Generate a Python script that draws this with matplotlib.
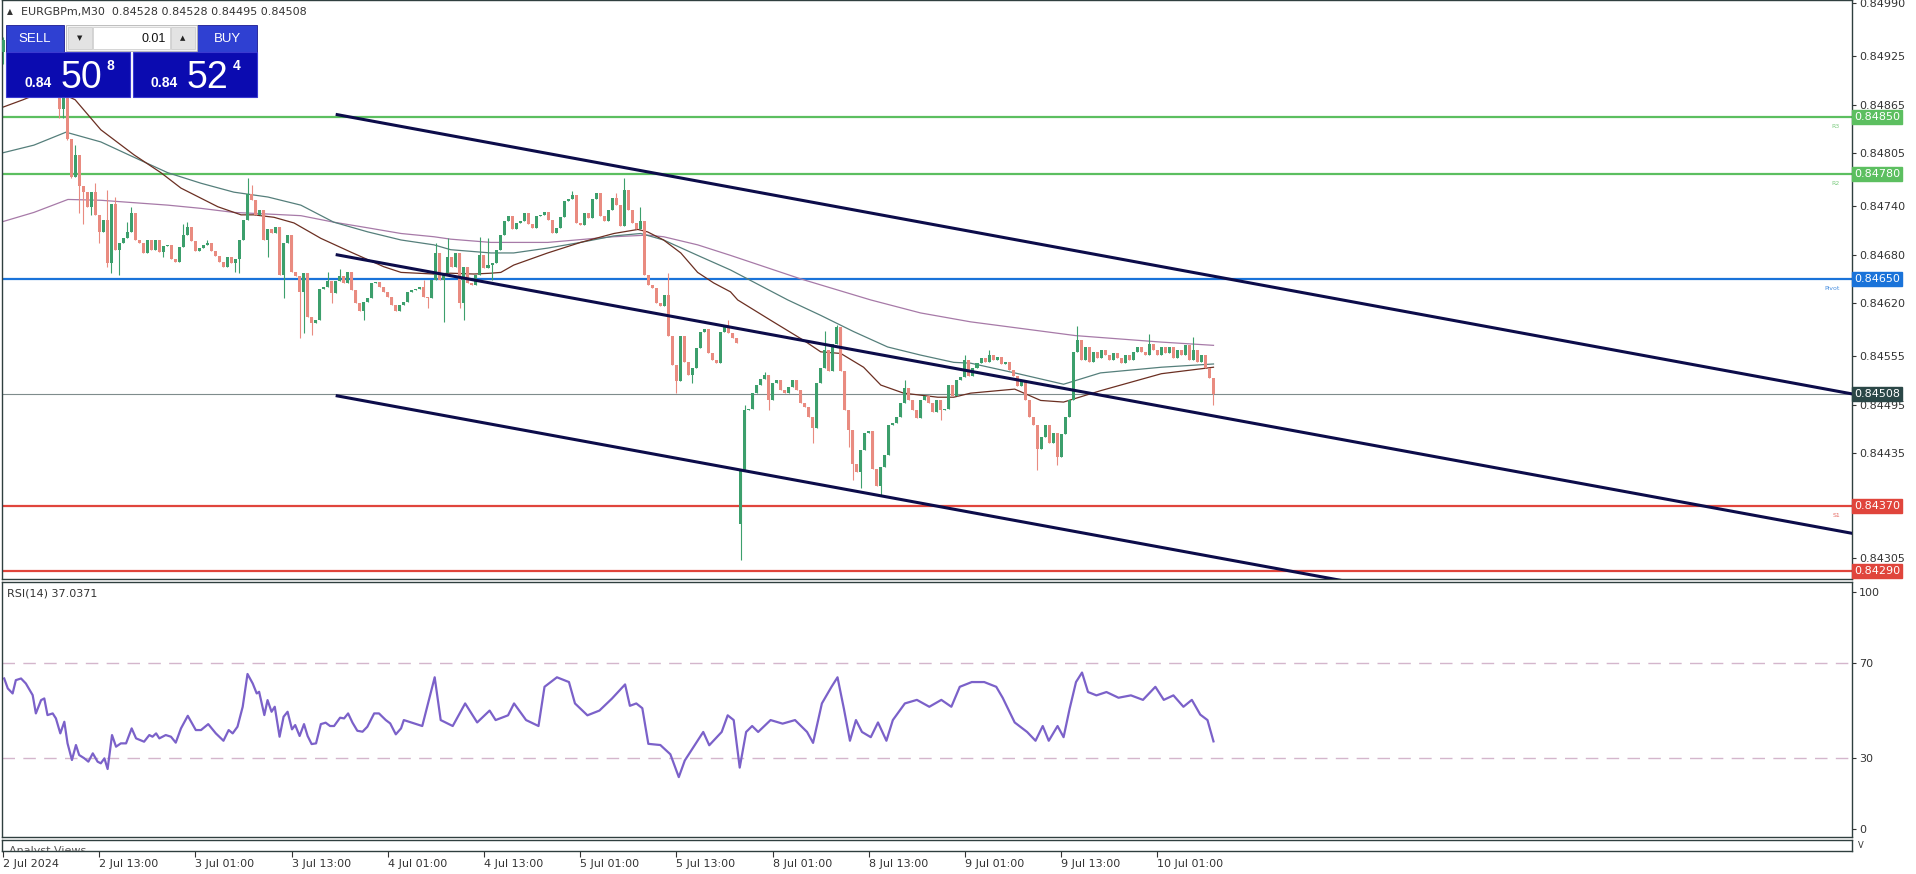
import numpy as np
import matplotlib
matplotlib.use("Agg")
import matplotlib.pyplot as plt
import matplotlib.transforms as mtransforms
from matplotlib.patches import Rectangle

W, H = 1916, 874

# ----------------------------- DATA -----------------------------
# EURGBPm M30 bars from 2 Jul 01:00, prices in points (84850 -> 0.84850)
first_open = 84930
closes = [
    84945, 84925, 84938, 84945, 84930, 84922, 84935, 84928, 84915, 84920,
    84905, 84912, 84898, 84885, 84860, 84875, 84823, 84776, 84803, 84764,
    84757, 84739, 84757, 84729, 84708, 84723, 84669, 84743, 84686, 84694,
    84700, 84708, 84731, 84698, 84694, 84682, 84698, 84686, 84698, 84683,
    84690, 84692, 84675, 84671, 84689, 84704, 84714, 84697, 84684, 84688,
    84692, 84694, 84684, 84678, 84671, 84665, 84677, 84669, 84675, 84698,
    84723, 84755, 84747, 84729, 84735, 84698, 84712, 84706, 84714, 84655,
    84694, 84704, 84659, 84653, 84634, 84657, 84603, 84595, 84599, 84638,
    84640, 84647, 84632, 84647, 84653, 84645, 84659, 84636, 84620, 84610,
    84622, 84626, 84645, 84646, 84640, 84634, 84628, 84618, 84610, 84618,
    84622, 84634, 84636, 84637, 84640, 84628, 84626, 84649, 84682, 84649,
    84657, 84677, 84665, 84682, 84620, 84665, 84645, 84642, 84655, 84680,
    84663, 84667, 84670, 84686, 84704, 84721, 84727, 84711, 84719, 84721,
    84731, 84718, 84713, 84727, 84729, 84733, 84723, 84707, 84713, 84726,
    84746, 84748, 84754, 84719, 84717, 84731, 84725, 84748, 84756, 84727,
    84721, 84735, 84750, 84741, 84715, 84760, 84735, 84719, 84711, 84721,
    84655, 84643, 84639, 84620, 84616, 84630, 84579, 84544, 84524, 84579,
    84548, 84532, 84540, 84565, 84585, 84588, 84559, 84550, 84546, 84585,
    84592, 84583, 84577, 84571, 84414, 84488, 84490, 84509, 84519, 84527,
    84531, 84501, 84521, 84525, 84513, 84509, 84517, 84525, 84513, 84497,
    84492, 84480, 84466, 84521, 84540, 84562, 84536, 84570, 84591, 84536,
    84488, 84464, 84421, 84412, 84439, 84460, 84462, 84416, 84394, 84418,
    84433, 84470, 84472, 84480, 84497, 84515, 84501, 84488, 84478, 84501,
    84505, 84497, 84486, 84501, 84488, 84490, 84519, 84505, 84525, 84529,
    84550, 84530, 84540, 84546, 84552, 84548, 84556, 84550, 84554, 84545,
    84548, 84538, 84530, 84518, 84524, 84500, 84480, 84470, 84440, 84455,
    84470, 84448, 84460, 84430, 84458, 84480, 84500, 84560, 84575, 84550,
    84566, 84548, 84560, 84552, 84562, 84556, 84550, 84558, 84552, 84546,
    84556, 84550, 84560, 84566, 84560, 84556, 84570, 84562, 84556, 84566,
    84558, 84566, 84552, 84562, 84556, 84568, 84550, 84562, 84548, 84556,
    84540, 84528, 84508,
]
gap_opens = {184: 84348}
wick_highs = {0: 84948, 14: 84895, 15: 84880, 18: 84815, 23: 84768, 26: 84760,
              28: 84751, 31: 84720, 32: 84739, 45: 84718, 46: 84720, 51: 84698,
              61: 84774, 62: 84766, 81: 84659, 84: 84662, 105: 84649, 108: 84694,
              111: 84700, 119: 84702, 121: 84700, 142: 84758, 153: 84756,
              155: 84774, 159: 84739, 166: 84657, 181: 84599, 185: 84494,
              190: 84535, 205: 84586, 208: 84593, 217: 84462, 225: 84525,
              240: 84556, 246: 84562, 268: 84592, 286: 84582, 297: 84578}
wick_lows = {0: 84915, 14: 84848, 15: 84848, 16: 84821, 17: 84774, 19: 84731,
             20: 84718, 22: 84729, 24: 84694, 26: 84665, 27: 84657, 29: 84655,
             40: 84677, 58: 84659, 59: 84657, 66: 84677, 70: 84626, 74: 84577,
             75: 84583, 77: 84581, 82: 84620, 90: 84599, 106: 84614, 110: 84597,
             114: 84614, 115: 84599, 122: 84649, 168: 84509, 172: 84522,
             184: 84303, 191: 84488, 202: 84447, 211: 84443, 212: 84402,
             214: 84392, 219: 84383, 234: 84476, 258: 84414, 263: 84420, 302: 84495}

# moving averages (bar index, points)
fast_ma_idx = [-0.5, 5, 12, 18, 24.4, 32.7, 39.4, 44.4, 53.6, 59.4, 62.6, 67.6, 72.6, 79.3,
               86.8, 95, 99.3, 107.5, 111.7, 117.5, 121.7, 124.2, 127.4, 135.9, 144.1,
               152.4, 158.4, 160.8, 164.8, 169.1, 173.3, 177.3, 181.5, 183.3, 191.5,
               199.8, 204, 209, 214.7, 219, 224.7, 233.2, 237.2, 241.4, 252.4, 258.9,
               264.6, 273.8, 289, 302]
fast_ma = [84861, 84871, 84885, 84871, 84834, 84803, 84781, 84762, 84739, 84729, 84729,
           84726, 84719, 84700, 84683, 84665, 84658, 84656, 84657, 84656, 84657, 84658,
           84667, 84682, 84695, 84706, 84711, 84708, 84698, 84682, 84658, 84645, 84634,
           84624, 84599, 84574, 84560, 84558, 84541, 84519, 84509, 84504, 84504, 84509,
           84514, 84500, 84498, 84512, 84533, 84541]
mid_ma_idx = [-0.5, 7.7, 15.7, 24.4, 32.7, 41.1, 49.4, 57.6, 66.1, 74.3, 82.5, 91, 99.3,
              107.5, 111.7, 121.7, 127.4, 135.9, 144.1, 152.4, 159.1, 164.8, 173.3,
              181.5, 195.8, 204, 212.2, 220.7, 228.9, 237.2, 241.4, 252.4, 264.6,
              273.8, 289, 302]
mid_ma = [84805, 84815, 84831, 84819, 84800, 84781, 84768, 84757, 84751, 84741, 84720,
          84708, 84698, 84692, 84686, 84682, 84682, 84688, 84695, 84703, 84706, 84698,
          84679, 84661, 84624, 84605, 84585, 84566, 84556, 84547, 84546, 84534, 84520,
          84534, 84541, 84545]
slow_ma_idx = [-0.5, 7.7, 16.2, 24.4, 32.7, 41.1, 49.4, 57.6, 66.1, 74.3, 82.5, 91, 99.3,
               107.5, 111.7, 121.7, 135.9, 152.4, 160.8, 164.8, 173.3, 181.5, 199,
               216.5, 228.9, 241.4, 267.6, 289, 302]
slow_ma = [84720, 84732, 84748, 84747, 84744, 84741, 84737, 84732, 84730, 84728, 84720,
           84713, 84706, 84702, 84699, 84695, 84695, 84702, 84704, 84702, 84692, 84679,
           84650, 84624, 84608, 84597, 84580, 84572, 84568]

# channel (bar index of ends, points)
channel_idx = [83, 461.4]
channel_upper = [84853, 84508]
channel_mid = [84680, 84336]
channel_low = [84506, 84162]

level_prices = [0.84850, 0.84780, 0.84650, 0.84370, 0.84290]
level_colors = ['#5cbf60', '#5cbf60', '#1a73d9', '#e0453c', '#e0453c']
level_names = ['R3', 'R2', 'Pivot', 'S1', '']
last_price = 0.84508

price_ticks = [0.84990, 0.84925, 0.84865, 0.84805, 0.84740, 0.84680, 0.84620,
               0.84555, 0.84495, 0.84435, 0.84305]

rsi_idx = [0.3, 1.2, 2.4, 3.2, 4.5, 5.7, 7.4, 8.2, 9.5, 10.3, 11.1, 12.4, 13.2, 14.3,
           15.3, 16.1, 17.2, 18.2, 19.0, 20.3, 21.3, 22.4, 23.6, 24.4, 25.3, 26.1,
           27.2, 28.2, 29.4, 30.7, 32.1, 33.2, 35.2, 36.5, 37.3, 38.2, 39.0, 40.6,
           41.9, 43.1, 44.4, 46.1, 48.1, 49.4, 51.2, 53.1, 55.0, 56.3, 57.3, 58.5,
           59.8, 61.0, 62.3, 63.3, 63.9, 65.2, 66.0, 67.0, 67.8, 69.0, 70.0, 71.0,
           72.1, 72.9, 74.0, 75.1, 76.0, 77.0, 78.1, 79.3, 80.5, 81.6, 82.6, 84.1,
           85.1, 86.1, 87.2, 88.4, 89.7, 90.9, 92.6, 93.8, 95.5, 96.6, 98.0, 99.3,
           100.0, 104.6, 107.7, 109.2, 112.2, 115.3, 118.3, 121.4, 122.9, 126.0,
           127.5, 130.5, 133.6, 135.1, 138.2, 141.2, 142.7, 145.8, 148.8, 151.9,
           155.2, 156.4, 158.0, 159.5, 161.0, 164.0, 166.5, 168.6, 170.1, 174.7,
           176.2, 179.3, 180.8, 182.3, 183.8, 185.4, 186.9, 188.4, 191.5, 194.5,
           197.6, 200.6, 202.1, 204.3, 206.7, 208.2, 209.8, 211.3, 212.8, 214.3,
           216.5, 218.3, 220.4, 222.0, 225.0, 228.0, 231.1, 234.1, 236.6, 238.7,
           241.7, 244.8, 247.8, 249.4, 252.4, 255.5, 257.6, 259.4, 260.9, 263.1,
           264.6, 266.1, 267.7, 269.2, 270.7, 272.8, 275.3, 278.3, 281.4, 284.4,
           287.5, 289.6, 292.0, 294.5, 296.6, 298.7, 300.5, 302.0]
rsi_vals = [63.5, 59.3, 57.2, 62.8, 63.5, 61.4, 56.5, 48.8, 54.4, 55.1, 48.1, 48.8, 46.7,
            40.4, 45.3, 36.2, 29.2, 35.5, 31.3, 29.9, 28.5, 32.0, 28.5, 27.8, 29.9, 25.4,
            39.7, 34.8, 36.2, 36.2, 42.5, 38.3, 36.9, 39.7, 39.0, 40.4, 38.3, 39.7, 39.0,
            36.5, 42.5, 47.8, 41.8, 41.8, 44.3, 40.4, 37.3, 41.8, 40.4, 43.2, 51.6, 65.4,
            61.4, 57.2, 57.9, 48.1, 54.4, 49.5, 51.6, 39.0, 47.4, 49.5, 42.1, 43.9, 39.3,
            44.3, 39.3, 35.9, 36.2, 44.3, 44.9, 43.5, 43.5, 47.0, 46.7, 48.8, 44.9, 41.5,
            41.1, 43.2, 48.8, 48.8, 46.0, 44.6, 40.0, 42.5,
            46.0, 43.5, 64.0, 46.0, 43.5, 53.0, 45.0, 50.0, 46.0, 48.0,
            53.0, 46.0, 43.5, 60.0, 64.0, 62.0, 53.0, 48.0, 50.0, 55.0,
            61.0, 52.0, 53.0, 51.0, 36.0, 35.5, 31.6, 22.0, 29.0, 41.0,
            35.4, 41.0, 48.0, 46.0, 26.0, 41.0, 43.5, 41.0, 46.0, 44.5,
            46.0, 41.0, 36.4, 53.0, 60.0, 64.0, 50.7, 37.3, 46.0, 41.0,
            38.8, 45.0, 37.3, 46.0, 53.0, 54.5, 51.6, 54.5, 51.6, 60.0,
            62.0, 62.0, 60.0, 55.4, 45.0, 41.0, 37.3, 43.5, 37.3, 43.5,
            38.8, 50.7, 62.0, 66.0, 57.8, 56.4, 57.8, 55.4, 56.4, 54.5,
            60.0, 54.5, 56.4, 51.6, 54.5, 48.3, 46.0, 37.04]

tick_idx = [0, 24, 48, 72, 96, 120, 144, 168, 192, 216, 240, 264, 288]
tick_labels = ['2 Jul 2024', '2 Jul 13:00', '3 Jul 01:00', '3 Jul 13:00', '4 Jul 01:00',
               '4 Jul 13:00', '5 Jul 01:00', '5 Jul 13:00', '8 Jul 01:00', '8 Jul 13:00',
               '9 Jul 01:00', '9 Jul 13:00', '10 Jul 01:00']

GREEN, RED = '#3c9f6c', '#e98b80'
FRAME = '#2f3f3f'

plt.rcParams['font.family'] = ['DejaVu Sans']


def px_box(x0, y0, x1, y1):
    return [x0 / W, 1 - y1 / H, (x1 - x0) / W, (y1 - y0) / H]


def pts(values):
    return np.array(values) / 1e5


fig = plt.figure(figsize=(W / 100, H / 100), dpi=100)
fig.patch.set_facecolor('white')

ax = fig.add_axes(px_box(2, 0, 1852, 579))
rsi_ax = fig.add_axes(px_box(2, 582, 1852, 837), sharex=ax)
strip = fig.add_axes(px_box(2, 840, 1852, 851), sharex=ax)

for a in (ax, rsi_ax, strip):
    for s in a.spines.values():
        s.set_color(FRAME)
        s.set_linewidth(1)

# ----------------------------- PRICE PANEL -----------------------------
n = len(closes)
idx = np.arange(n)
c = pts(closes)
o = np.empty(n)
o[0] = first_open / 1e5
o[1:] = c[:-1]
for k, v in gap_opens.items():
    o[k] = v / 1e5
body_hi = np.maximum(o, c)
body_lo = np.minimum(o, c)
hi = body_hi.copy()
lo = body_lo.copy()
for k, v in wick_highs.items():
    hi[k] = max(hi[k], v / 1e5)
for k, v in wick_lows.items():
    lo[k] = min(lo[k], v / 1e5)
up = c >= o
cols = np.where(up, GREEN, RED)

for p, col in zip(level_prices, level_colors):
    ax.axhline(p, color=col, lw=1.6, zorder=1)
ax.axhline(last_price, color='#7f8c8c', lw=0.8, zorder=1)

ax.plot(slow_ma_idx, pts(slow_ma), color='#a77aa8', lw=0.9, zorder=2)
ax.plot(mid_ma_idx, pts(mid_ma), color='#557f7b', lw=0.9, zorder=2)
ax.plot(fast_ma_idx, pts(fast_ma), color='#6b2f22', lw=0.9, zorder=2)

ax.vlines(idx, lo, hi, colors=cols, lw=0.8, zorder=3)
ax.bar(idx, np.maximum(body_hi - body_lo, 0.0000125), bottom=body_lo, width=0.75,
       color=cols, linewidth=0, zorder=3)

for line in (channel_upper, channel_mid, channel_low):
    ax.plot(channel_idx, pts(line), color='#0c0c4a', lw=2.2, zorder=4,
            solid_capstyle='butt')

ax.set_xlim(-0.25, 461.3)
ax.set_ylim(0.842797, 0.849941)
ax.yaxis.tick_right()
ax.set_yticks(price_ticks)
ax.set_yticklabels([f'{v:.5f}' for v in price_ticks])
ax.tick_params(axis='y', direction='out', length=3, width=0.8, labelsize=8,
               colors='#333333', pad=2)
ax.tick_params(axis='x', bottom=False, labelbottom=False)

trans = mtransforms.blended_transform_factory(ax.transAxes, ax.transData)
tag_prices = level_prices + [last_price]
tag_colors = level_colors + ['#2b4747']
for p, col in zip(tag_prices, tag_colors):
    ax.text(1.0012, p, f'{p:.5f}', transform=trans, ha='left', va='center',
            fontsize=8, color='white', clip_on=False, zorder=6,
            bbox=dict(boxstyle='square,pad=0.18', fc=col, ec=col))
for p, name, col in zip(level_prices, level_names, level_colors):
    if name:
        ax.text(0.9935, p - 0.00012, name, transform=trans, ha='right', va='center',
                fontsize=4.5, color=col, alpha=0.8)

# ----------------------------- RSI PANEL -----------------------------
for lvl in (70, 30):
    rsi_ax.axhline(lvl, color='#d4b6cc', lw=1, dashes=(9, 6))
rsi_ax.plot(rsi_idx, rsi_vals, color='#7b61c9', lw=1.6)
rsi_ax.set_ylim(-3.2, 104.1)
rsi_ax.yaxis.tick_right()
rsi_ax.set_yticks([0, 30, 70, 100])
rsi_ax.tick_params(axis='y', direction='out', length=3, width=0.8, labelsize=8,
                   colors='#333333', pad=2)
rsi_ax.tick_params(axis='x', bottom=False, labelbottom=False)
rsi_ax.text(0.0027, 0.953, 'RSI(14) 37.0371', transform=rsi_ax.transAxes,
            ha='left', va='center', fontsize=8, color='#333333')

# ----------------------------- BOTTOM STRIP / TIME AXIS -----------------------------
strip.set_yticks([])
strip.set_xticks(tick_idx)
strip.set_xticklabels(tick_labels, ha='left', fontsize=8, color='#333333')
strip.tick_params(axis='x', direction='out', length=4, width=0.8, pad=2,
                  colors='#333333')
strip.text(0.004, 0.5, 'Analyst Views', transform=strip.transAxes, ha='left',
           va='top', fontsize=8, color='#555555', clip_on=True)
strip.text(1.003, 0.5, 'V', transform=strip.transAxes, ha='left', va='center',
           fontsize=6, color='#333333', clip_on=False)

# ----------------------------- TRADE PANEL OVERLAY -----------------------------
ov = fig.add_axes([0, 0, 1, 1])
ov.set_xlim(0, W)
ov.set_ylim(H, 0)
ov.axis('off')
ov.patch.set_visible(False)

ov.text(7, 12, '\u25b2', fontsize=5.5, color='#333333', va='center', ha='left')
ov.text(21, 12, 'EURGBPm,M30  0.84528 0.84528 0.84495 0.84508', fontsize=8,
        color='#333333', va='center', ha='left')

BTN = '#2f40d2'
PRICE_BOX = '#0b0bb0'
ov.add_patch(Rectangle((6, 25), 58, 27, fc=BTN, ec='#1a1a90', lw=0.6))
ov.add_patch(Rectangle((197, 25), 60, 27, fc=BTN, ec='#1a1a90', lw=0.6))
ov.add_patch(Rectangle((66, 25), 131, 26, fc='#f2f2f2', ec='#b5b5b5', lw=0.6))
ov.add_patch(Rectangle((68, 27), 24, 22, fc='#e3e3e3', ec='#c8c8c8', lw=0.5))
ov.add_patch(Rectangle((93, 27), 77, 22, fc='white', ec='#c8c8c8', lw=0.5))
ov.add_patch(Rectangle((171, 27), 24, 22, fc='#e3e3e3', ec='#c8c8c8', lw=0.5))
ov.add_patch(Rectangle((6, 52), 124, 45, fc=PRICE_BOX, ec='#3a3ad0', lw=0.8))
ov.add_patch(Rectangle((133, 52), 124, 45, fc=PRICE_BOX, ec='#3a3ad0', lw=0.8))

ov.text(35, 38.5, 'SELL', fontsize=9.5, color='white', ha='center', va='center',
        family='Liberation Sans')
ov.text(227, 38.5, 'BUY', fontsize=9.5, color='white', ha='center', va='center',
        family='Liberation Sans')
ov.text(80, 38, '\u25bc', fontsize=5, color='#222222', ha='center', va='center')
ov.text(183, 38, '\u25b2', fontsize=5, color='#222222', ha='center', va='center')
ov.text(166, 38.5, '0.01', fontsize=9, color='#111111', ha='right', va='center',
        family='Liberation Sans')

for x0, big, small in ((25, '50', '8'), (151, '52', '4')):
    ov.text(x0, 87, '0.84', fontsize=10, fontweight='bold', color='white',
            ha='left', va='baseline', family='Liberation Sans')
    ov.text(x0 + 36, 88, big, fontsize=27, color='white', ha='left', va='baseline',
            family='Liberation Sans')
    ov.text(x0 + 82, 70, small, fontsize=10, fontweight='bold', color='white',
            ha='left', va='baseline', family='Liberation Sans')

fig.savefig('out.png', dpi=100, facecolor='white')
